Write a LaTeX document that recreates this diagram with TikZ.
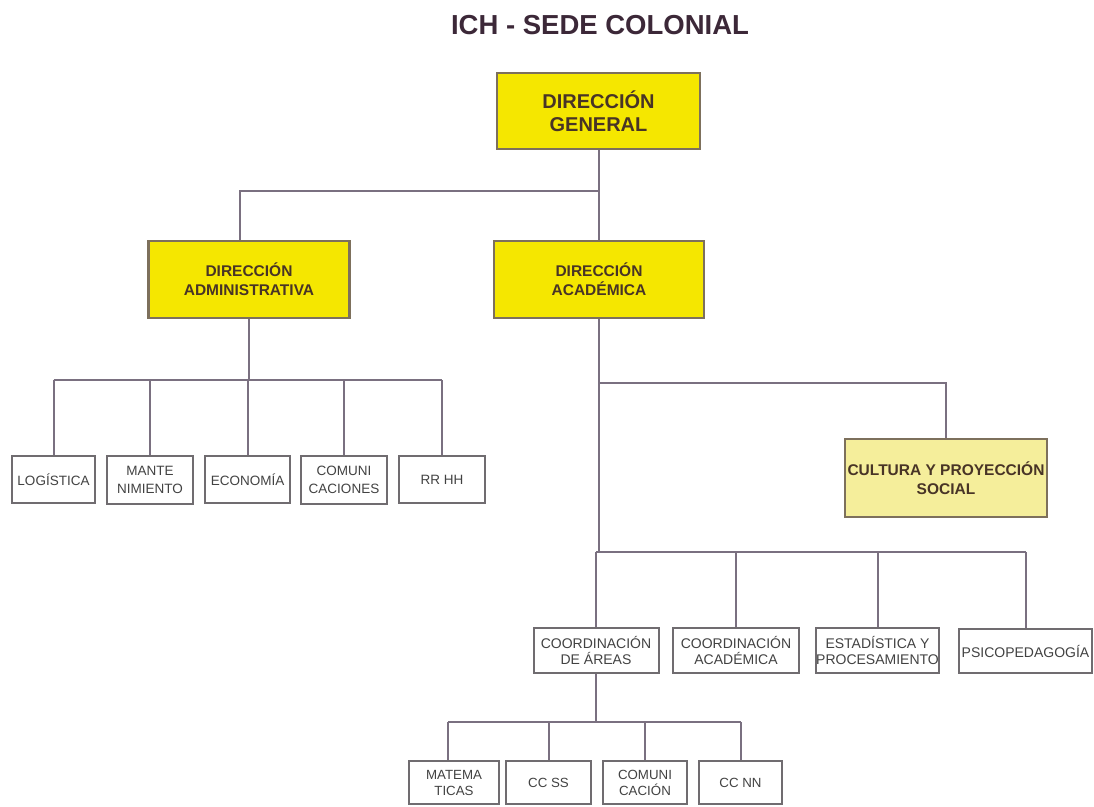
\documentclass[tikz,border=0pt]{standalone}
\usepackage{fontspec}
\setmainfont{Liberation Sans}
\usetikzlibrary{calc}
\definecolor{ylw}{RGB}{245,231,0}
\definecolor{lylw}{RGB}{245,238,155}
\definecolor{ybord}{RGB}{125,112,92}
\definecolor{wbord}{RGB}{112,108,112}
\definecolor{conn}{RGB}{122,112,128}
\definecolor{ytext}{RGB}{72,52,38}
\definecolor{wtext}{RGB}{66,66,66}
\definecolor{ttext}{RGB}{60,40,56}
\begin{document}
\begin{tikzpicture}[x=1pt,y=-1pt,
  ybox/.style={draw=ybord, line width=2.2pt, fill=ylw, text=ytext, align=center, inner sep=0pt,
    font=\bfseries\fontsize{15.5}{19}\selectfont},
  lybox/.style={ybox, fill=lylw},
  wbox/.style={draw=wbord, line width=2pt, fill=white, text=wtext, align=center, inner sep=0pt,
    font=\fontsize{13.5}{18}\selectfont},
  cbox/.style={wbox, font=\fontsize{14}{15.5}\selectfont},
  bbox/.style={wbox, font=\fontsize{13.3}{16}\selectfont},
  conn/.style={draw=conn, line width=2pt},
  titlestyle/.style={text=ttext, font=\bfseries\fontsize{27.5}{30}\selectfont, inner sep=0pt}]
\useasboundingbox[fill=white] (0,0) rectangle (1094,806);

\node[titlestyle] (title) at (600,25) {ICH - SEDE COLONIAL};

\node[ybox, minimum width=203, minimum height=76, font=\bfseries\fontsize{20}{23}\selectfont] (dg) at (598.5,111) {DIRECCIÓN\\GENERAL};
\node[ybox, minimum width=201, minimum height=77] (da) at (249,279.5) {DIRECCIÓN\\ADMINISTRATIVA};
\node[ybox, minimum width=210, minimum height=77] (ac) at (599,279.5) {DIRECCIÓN\\ACADÉMICA};

\node[wbox, minimum width=83, minimum height=47] (log) at (53.5,479.5) {LOGÍSTICA};
\node[wbox, minimum width=86, minimum height=48] (man) at (150,480) {MANTE\\NIMIENTO};
\node[wbox, minimum width=85, minimum height=47] (eco) at (247.5,479.5) {ECONOMÍA};
\node[wbox, minimum width=86, minimum height=48] (com) at (344,480) {COMUNI\\CACIONES};
\node[wbox, minimum width=86, minimum height=47] (rrh) at (442,479.5) {RR HH};

\node[lybox, minimum width=202, minimum height=78] (cul) at (946,478) {CULTURA Y PROYECCIÓN\\SOCIAL};

\node[cbox, minimum width=125, minimum height=45] (ca) at (596,650.5) {COORDINACIÓN\\DE ÁREAS};
\node[cbox, minimum width=126, minimum height=45] (cac) at (736,650.5) {COORDINACIÓN\\ACADÉMICA};
\node[cbox, minimum width=123, minimum height=45] (est) at (877.5,650.5) {ESTADÍSTICA Y\\PROCESAMIENTO};
\node[cbox, minimum width=133, minimum height=44] (psi) at (1025.5,651) {PSICOPEDAGOGÍA};

\node[bbox, minimum width=90, minimum height=43] (mat) at (454,782.5) {MATEMA\\TICAS};
\node[bbox, minimum width=85, minimum height=43] (ccs) at (548.5,782.5) {CC SS};
\node[bbox, minimum width=84, minimum height=43] (cmn) at (645,782.5) {COMUNI\\CACIÓN};
\node[bbox, minimum width=83, minimum height=43] (ccn) at (740.5,782.5) {CC NN};

\coordinate (datop) at ($(da.north)+(-9,0)$);
\coordinate (mattop) at ($(mat.north)+(-6,0)$);

% top level
\draw[conn] (dg.south) -- (dg.south |- ac.north);
\draw[conn] (dg.south |- 0,191) -| (datop);

% administrative branch
\draw[conn] (da.south) -- (da.south |- 0,380);
\draw[conn] (log.north |- 0,380) -- (rrh.north |- 0,380);
\foreach \n in {log,man,eco,com,rrh} \draw[conn] (\n.north) -- (\n.north |- 0,380);

% academic branch
\draw[conn] (ac.south) -- (ac.south |- 0,552);
\draw[conn] (ac.south |- 0,383) -| (cul.north);
\draw[conn] (ca.north |- 0,552) -- (psi.north |- 0,552);
\foreach \n in {ca,cac,est,psi} \draw[conn] (\n.north) -- (\n.north |- 0,552);

% areas
\draw[conn] (ca.south) -- (ca.south |- 0,722);
\draw[conn] (mattop |- 0,722) -- (ccn.north |- 0,722);
\draw[conn] (mattop) -- (mattop |- 0,722);
\foreach \n in {ccs,cmn,ccn} \draw[conn] (\n.north) -- (\n.north |- 0,722);
\end{tikzpicture}
\end{document}
